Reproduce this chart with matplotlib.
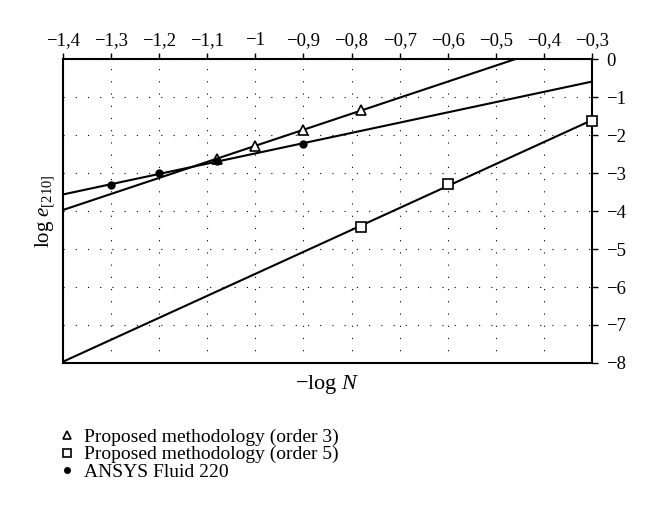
import numpy as np
import matplotlib
matplotlib.use("Agg")
import matplotlib.pyplot as plt

plt.rcParams['font.family'] = ['Liberation Serif', 'DejaVu Serif']
plt.rcParams['mathtext.fontset'] = 'custom'
plt.rcParams['mathtext.rm'] = 'Liberation Serif'
plt.rcParams['mathtext.it'] = 'Liberation Serif:italic'

# data (x = -log N, y = log e[210])
x_order3 = [-1.08, -1.0, -0.9, -0.78]
y_order3 = [-2.62, -2.28, -1.87, -1.35]

x_order5 = [-0.78, -0.6, -0.3]
y_order5 = [-4.42, -3.28, -1.63]

x_ansys = [-1.3, -1.2, -1.08, -0.9]
y_ansys = [-3.32, -3.0, -2.68, -2.23]

xticks = [-1.4, -1.3, -1.2, -1.1, -1.0, -0.9, -0.8, -0.7, -0.6, -0.5, -0.4, -0.3]
xticklabels = ['\u22121,4', '\u22121,3', '\u22121,2', '\u22121,1', '\u22121', '\u22120,9',
               '\u22120,8', '\u22120,7', '\u22120,6', '\u22120,5', '\u22120,4', '\u22120,3']
yticks = [0, -1, -2, -3, -4, -5, -6, -7, -8]
yticklabels = ['0'] + ['\u2212%d' % k for k in range(1, 9)]

fig = plt.figure(figsize=(6.6, 5.32), dpi=100)
ax = fig.add_axes([0.0955, 0.3177, 0.8015, 0.5713])

xlim = (-1.4, -0.3)
xx = np.array(xlim)

# fitted straight lines through each series, over the full x range
for xs, ys in [(x_order3, y_order3), (x_order5, y_order5), (x_ansys, y_ansys)]:
    k, b = np.polyfit(xs, ys, 1)
    ax.plot(xx, k * xx + b, color='black', lw=1.5, zorder=2)

ax.plot(x_order3, y_order3, ls='none', marker='^', ms=7, mfc='white', mec='black',
        mew=1.2, zorder=3, label='Proposed methodology (order 3)')
ax.plot(x_order5, y_order5, ls='none', marker='s', ms=6.5, mfc='white', mec='black',
        mew=1.2, zorder=3, label='Proposed methodology (order 5)', clip_on=False)
ax.plot(x_ansys, y_ansys, ls='none', marker='o', ms=5, color='black', zorder=3,
        label='ANSYS Fluid 220')

ax.set_xlim(*xlim)
ax.set_ylim(-8, 0)

ax.xaxis.tick_top()
ax.yaxis.tick_right()
ax.set_xticks(xticks)
ax.set_xticklabels(xticklabels, fontsize=13.5)
ax.set_yticks(yticks)
ax.set_yticklabels(yticklabels, fontsize=13.5)
ax.tick_params(direction='out', length=4, width=1)
ax.tick_params(axis='x', pad=3)
ax.tick_params(axis='y', pad=6)

ax.grid(True, color='black', lw=0.8, linestyle=(0, (1, 10)))
for s in ax.spines.values():
    s.set_linewidth(1.5)

ax.set_xlabel(r'$\mathrm{-log}\ N$', fontsize=16, labelpad=7)
ax.xaxis.set_label_position('bottom')
ax.set_ylabel(r'$\mathrm{log}\ e_{[210]}$', fontsize=15, labelpad=4)

leg = fig.legend(loc='upper left', bbox_to_anchor=(0.08, 0.21), frameon=False,
                 fontsize=14, handlelength=0.7, handletextpad=0.5, labelspacing=0.0,
                 borderaxespad=0, markerscale=0.8)

fig.savefig('out.png', dpi=100)
